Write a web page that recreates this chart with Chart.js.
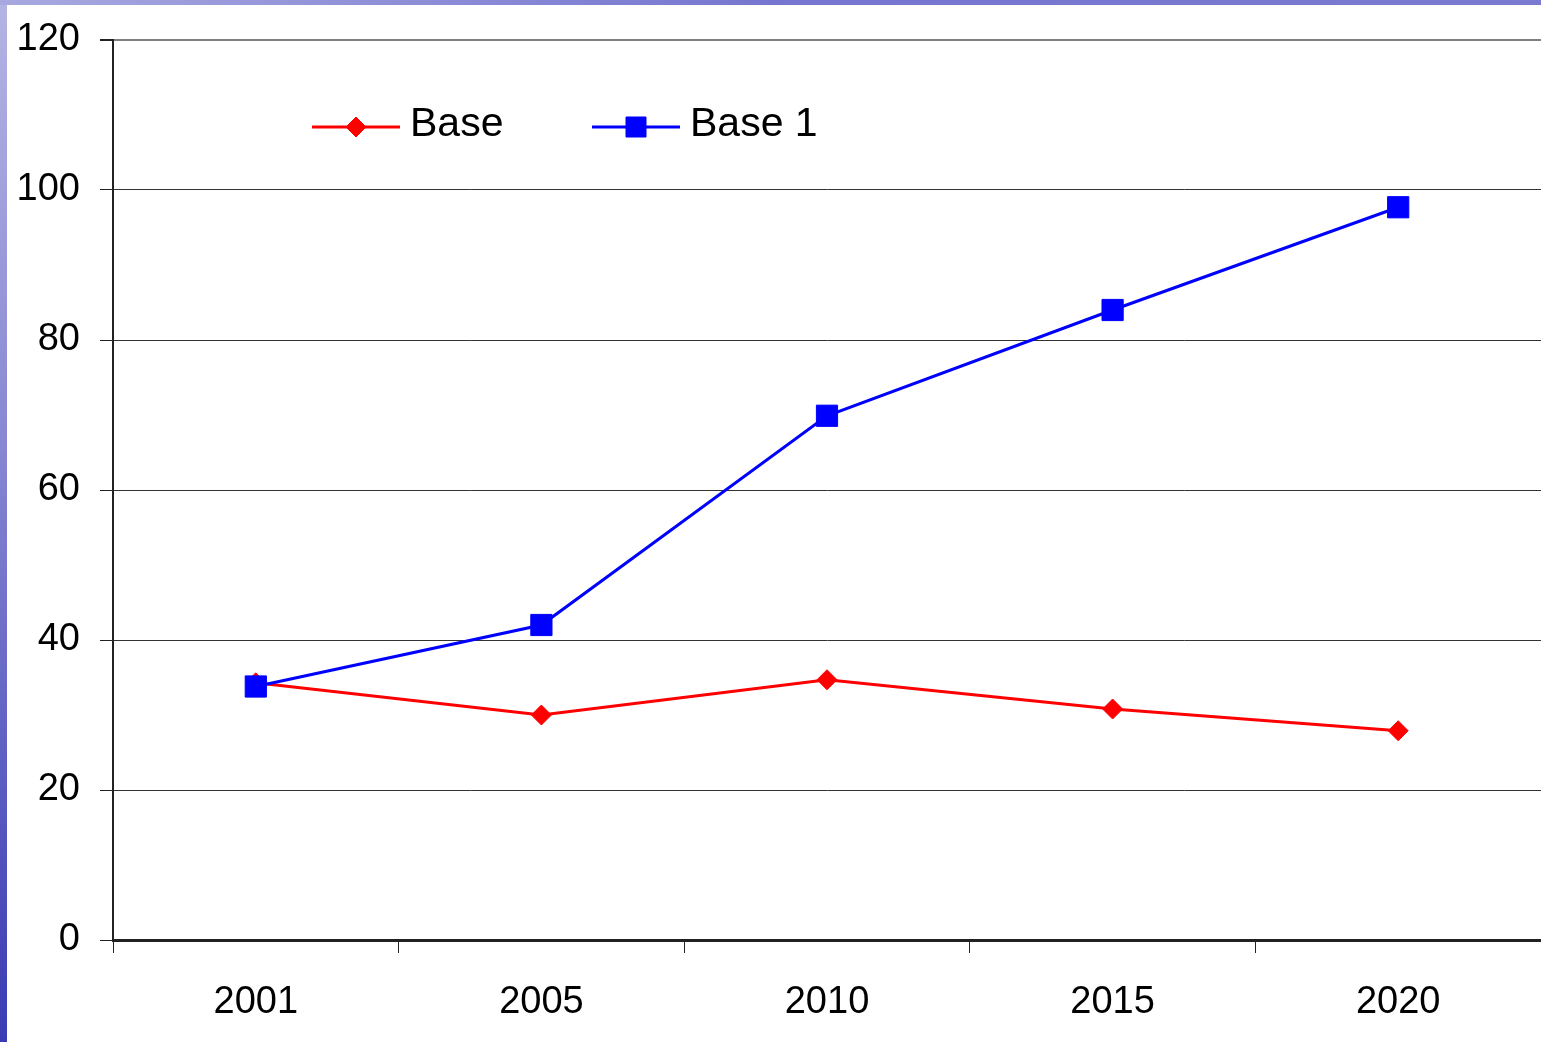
<!DOCTYPE html>
<html>
<head>
<meta charset="utf-8">
<script src="https://cdn.jsdelivr.net/npm/chart.js@4"></script>
<style>
  html, body { margin: 0; padding: 0; }
  body {
    width: 1541px; height: 1042px; overflow: hidden; position: relative;
    background: linear-gradient(to bottom, #b4b4e4 0%, #8a8ad4 40%, #3a3ab4 100%);
  }
  #topband {
    position: absolute; left: 0; top: 0; width: 1541px; height: 5px;
    background: linear-gradient(to right, #a8a8e0, #7676d0 50%, #7a7ad2);
  }
  #wrap {
    position: absolute; left: 7px; top: 5px; width: 1534px; height: 1037px;
    background: #ffffff;
  }
</style>
</head>
<body>
<div id="topband"></div>
<div id="wrap"><canvas id="chart" width="1534" height="1037"></canvas></div>
<script>
// Years on the category axis
const years = ['2001', '2005', '2010', '2015', '2020'];
// Series values
const baseValues = [34.3, 30, 34.7, 30.8, 27.9];
const base1Values = [33.8, 42, 69.9, 84, 97.7];
// Value axis range
const yMin = 0;
const yMax = 120;
const yStep = 20;

const FONT = 'Liberation Sans, Arial, sans-serif';

// Legend drawn as line + marker + label, like an office chart
const lineLegend = {
  id: 'lineLegend',
  afterDraw(chart) {
    const ctx = chart.ctx;
    const items = [
      { ds: chart.data.datasets[0], x0: 305, y: 122 },
      { ds: chart.data.datasets[1], x0: 585, y: 122 }
    ];
    ctx.save();
    items.forEach(it => {
      const ds = it.ds;
      ctx.strokeStyle = ds.borderColor;
      ctx.lineWidth = 3;
      ctx.beginPath();
      ctx.moveTo(it.x0, it.y);
      ctx.lineTo(it.x0 + 88, it.y);
      ctx.stroke();
      ctx.fillStyle = ds.pointBackgroundColor;
      ctx.strokeStyle = ds.pointBorderColor;
      ctx.lineWidth = 1;
      ctx.beginPath();
      const cx = it.x0 + 44, cy = it.y;
      if (ds.pointStyle === 'rect') {
        ctx.rect(cx - 10, cy - 10, 20, 20);
      } else {
        const r = 10;
        ctx.moveTo(cx, cy - r); ctx.lineTo(cx + r, cy);
        ctx.lineTo(cx, cy + r); ctx.lineTo(cx - r, cy); ctx.closePath();
      }
      ctx.fill();
      ctx.stroke();
      ctx.fillStyle = '#000000';
      ctx.font = '41px ' + FONT;
      ctx.textBaseline = 'middle';
      ctx.textAlign = 'left';
      ctx.fillText(ds.label, it.x0 + 98, it.y - 2);
    });
    ctx.restore();
  }
};

new Chart(document.getElementById('chart'), {
  type: 'line',
  data: {
    labels: years,
    datasets: [
      {
        label: 'Base',
        data: baseValues,
        borderColor: '#ff0000',
        backgroundColor: '#ff0000',
        pointBackgroundColor: '#ff0000',
        pointBorderColor: '#ff0000',
        borderWidth: 3,
        pointStyle: 'rectRot',
        pointRadius: 10,
        pointBorderWidth: 1,
        tension: 0,
        order: 2
      },
      {
        label: 'Base 1',
        data: base1Values,
        borderColor: '#0000ff',
        backgroundColor: '#0000ff',
        pointBackgroundColor: '#0000ff',
        pointBorderColor: '#0000ff',
        borderWidth: 3,
        pointStyle: 'rect',
        pointRadius: 15,
        pointBorderWidth: 1,
        tension: 0,
        order: 1
      }
    ]
  },
  options: {
    responsive: false,
    animation: false,
    events: [],
    layout: { autoPadding: false, padding: { top: 35, right: 0, left: 0, bottom: 0 } },
    plugins: {
      legend: { display: false },
      tooltip: { enabled: false }
    },
    scales: {
      x: {
        type: 'category',
        offset: true,
        grid: {
          offset: true,
          drawOnChartArea: false,
          drawTicks: true,
          tickLength: 13,
          tickWidth: 1,
          tickColor: '#222222'
        },
        border: { display: true, color: '#222222', width: 3 },
        ticks: {
          color: '#000000',
          font: { family: FONT, size: 38 },
          padding: 27,
          maxRotation: 0
        },
        afterFit(scale) {
          scale.height = 102;
          scale.paddingLeft = 0;
          scale.paddingRight = 0;
        }
      },
      y: {
        min: yMin,
        max: yMax,
        grid: {
          color: ctx => (ctx.tick && ctx.tick.value === yMax) ? '#808080' : '#333333',
          lineWidth: ctx => (ctx.tick && ctx.tick.value === yMax) ? 2 : 1,
          drawTicks: true,
          tickLength: 13,
          tickColor: '#222222'
        },
        border: { display: true, color: '#222222', width: 2 },
        ticks: {
          stepSize: yStep,
          color: '#000000',
          font: { family: FONT, size: 38 },
          padding: 20
        },
        afterFit(scale) {
          scale.width = 106;
          scale.paddingTop = 0;
          scale.paddingBottom = 0;
        }
      }
    }
  },
  plugins: [lineLegend]
});
</script>
</body>
</html>
